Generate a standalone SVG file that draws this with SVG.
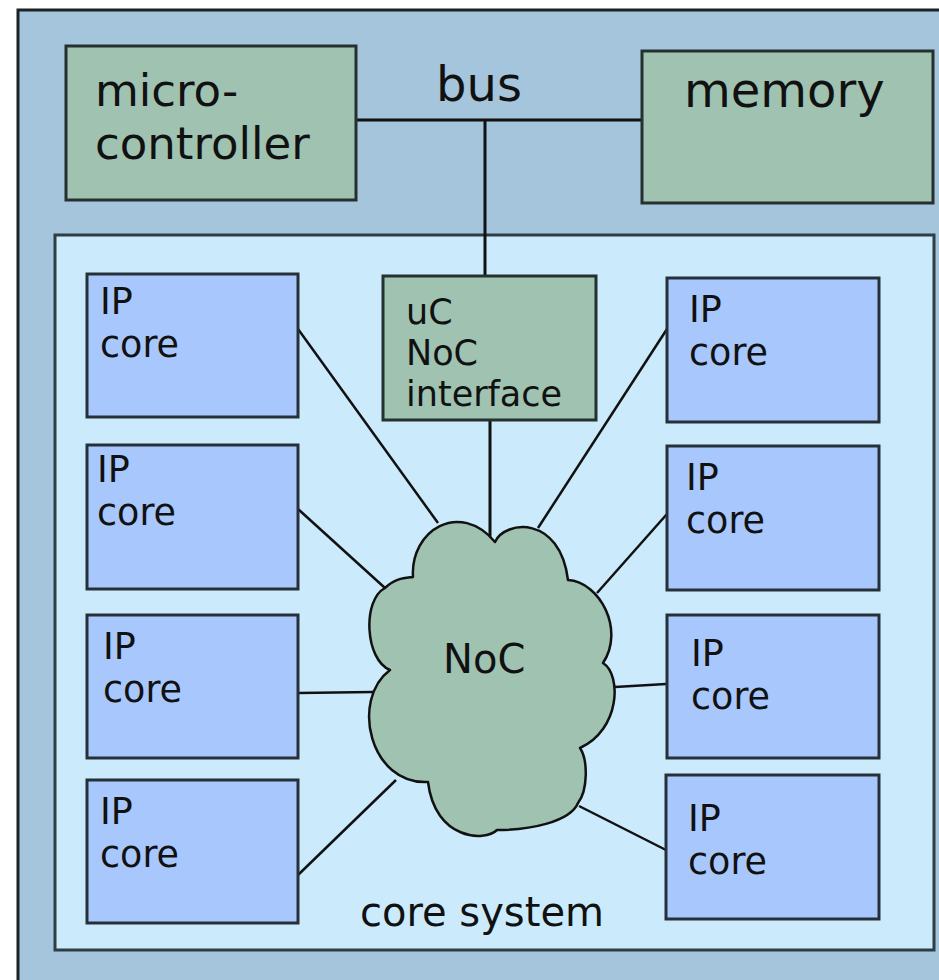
<svg xmlns="http://www.w3.org/2000/svg" width="939" height="980" viewBox="0 0 939 980">
<style>
  .frame { fill: #a4c5db; stroke: #1c2226; stroke-width: 3; }
  .sys { fill: #cbebfd; stroke: #2f3d45; stroke-width: 3; }
  .green { fill: #9fc2b1; stroke: #25302f; stroke-width: 3; }
  .ip { fill: #a8c8fd; stroke: #263039; stroke-width: 3; }
  .cloud { fill: #9fc2b1; stroke: #111; stroke-width: 2.5; stroke-linejoin: round; }
  .wire { stroke: #111; stroke-width: 2.5; fill: none; }
  .bus { stroke: #111; stroke-width: 3; fill: none; }
  text { font-family: "DejaVu Sans", Verdana, sans-serif; fill: #111; }
  .big { font-size: 48px; }
  .mc { font-size: 45px; }
  .mid { font-size: 40px; }
  .ipt { font-size: 36.5px; }
  .uct { font-size: 35px; }
</style>
<rect class="frame" x="18" y="10" width="960" height="1000"/>
<g id="core-system">
  <rect class="sys" x="55" y="235" width="879" height="715"/>
  <text class="mid" x="360" y="926">core system</text>
</g>
<g id="connectors">
  <path class="bus" d="M356 120 H641"/>
  <path class="bus" d="M485 120 V275"/>
  <path class="bus" d="M490 420 V543"/>
  <path class="wire" d="M298 329 L438 523"/>
  <path class="wire" d="M298 509 L385 588"/>
  <path class="wire" d="M298 693 L373 692"/>
  <path class="wire" d="M298 875 L396 780"/>
  <path class="wire" d="M538 528 L667 329"/>
  <path class="wire" d="M597 593 L667 514"/>
  <path class="wire" d="M615 687 L666 684"/>
  <path class="wire" d="M579 806 L666 850"/>
</g>
<g id="microcontroller">
  <rect class="green" x="66" y="46" width="290" height="154"/>
  <text class="mc" x="95" y="106">micro-</text>
  <text class="mc" x="95" y="159">controller</text>
</g>
<g id="memory">
  <rect class="green" x="642" y="51" width="291" height="152"/>
  <text class="big" x="684" y="107">memory</text>
</g>
<g id="bus-label">
  <text class="big" x="436" y="101">bus</text>
</g>
<g id="uc-noc-interface">
  <rect class="green" x="383" y="276" width="213" height="144"/>
  <text class="uct" x="406" y="324">uC</text>
  <text class="uct" x="406" y="365">NoC</text>
  <text class="uct" x="406" y="406">interface</text>
</g>
<g id="noc">
  <path class="cloud" d="M495 542 C505 520 560 515 568 580 C600 582 625 630 603 663 C622 675 620 730 580 748 C588 760 588 790 578 803 C570 822 530 830 497 830 C485 842 435 840 428 782 C370 785 350 700 390 670 C365 660 362 600 385 588 C395 578 405 578 413 577 C410 530 460 500 495 542 Z"/>
  <text class="mid" x="443" y="673">NoC</text>
</g>
<g id="ip-left-1">
  <rect class="ip" x="87" y="274" width="211" height="143"/>
  <text class="ipt" x="100" y="314">IP</text>
  <text class="ipt" x="100" y="357">core</text>
</g>
<g id="ip-left-2">
  <rect class="ip" x="87" y="445" width="211" height="144"/>
  <text class="ipt" x="97" y="482">IP</text>
  <text class="ipt" x="97" y="525">core</text>
</g>
<g id="ip-left-3">
  <rect class="ip" x="87" y="615" width="211" height="143"/>
  <text class="ipt" x="103" y="659">IP</text>
  <text class="ipt" x="103" y="702">core</text>
</g>
<g id="ip-left-4">
  <rect class="ip" x="87" y="780" width="211" height="143"/>
  <text class="ipt" x="100" y="824">IP</text>
  <text class="ipt" x="100" y="867">core</text>
</g>
<g id="ip-right-1">
  <rect class="ip" x="667" y="278" width="212" height="144"/>
  <text class="ipt" x="689" y="322">IP</text>
  <text class="ipt" x="689" y="365">core</text>
</g>
<g id="ip-right-2">
  <rect class="ip" x="667" y="446" width="212" height="144"/>
  <text class="ipt" x="686" y="490">IP</text>
  <text class="ipt" x="686" y="533">core</text>
</g>
<g id="ip-right-3">
  <rect class="ip" x="667" y="615" width="212" height="143"/>
  <text class="ipt" x="691" y="666">IP</text>
  <text class="ipt" x="691" y="709">core</text>
</g>
<g id="ip-right-4">
  <rect class="ip" x="666" y="775" width="213" height="144"/>
  <text class="ipt" x="688" y="831">IP</text>
  <text class="ipt" x="688" y="874">core</text>
</g>
</svg>
